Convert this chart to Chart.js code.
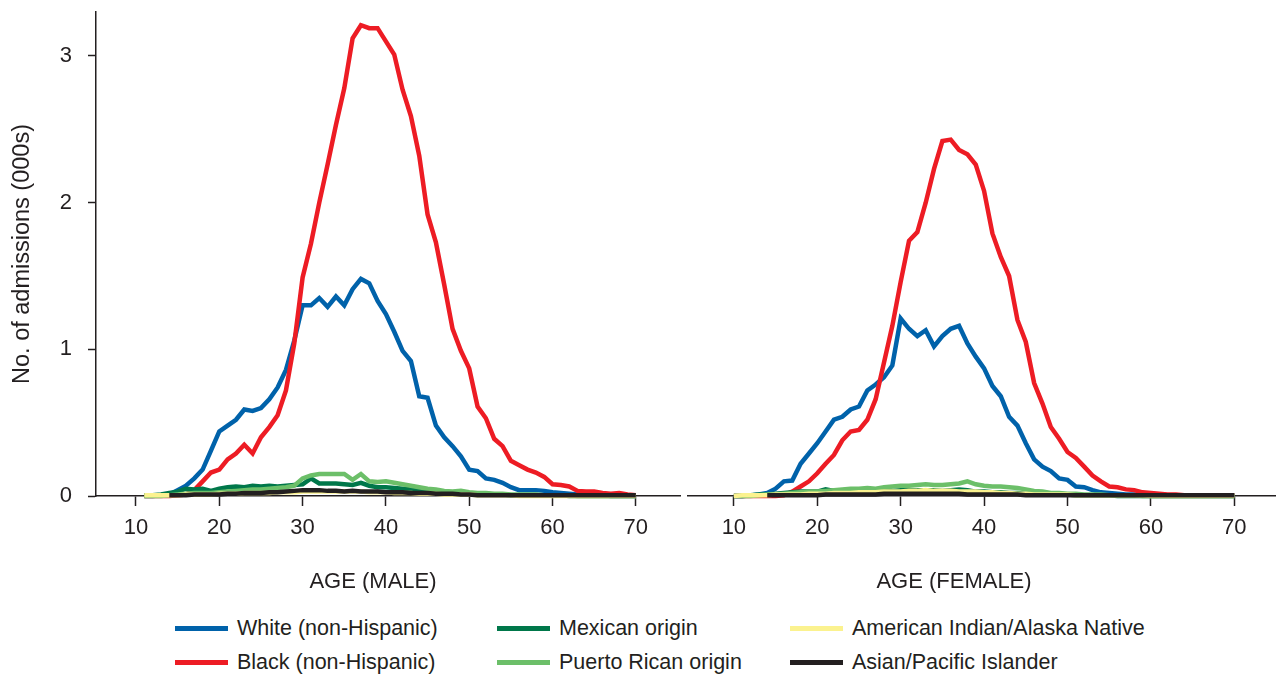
<!DOCTYPE html>
<html>
<head>
<meta charset="utf-8">
<script src="https://cdn.jsdelivr.net/npm/chart.js@4.4.1/dist/chart.umd.min.js"></script>
<style>
  body { margin: 0; background: #fff; }
  #wrap { position: relative; width: 1276px; height: 674px; font-family: "Liberation Sans", Arial, sans-serif; color: #231f20; }
  .panel { position: absolute; top: 0; height: 600px; }
  .key { position: absolute; height: 5px; width: 53px; }
  .lab { position: absolute; font-size: 21.5px; line-height: 24px; white-space: nowrap; }
  .xtitle { position: absolute; font-size: 22px; line-height: 26px; white-space: nowrap; transform: translateX(-50%); }
</style>
</head>
<body>
<div id="wrap">
  <div class="panel" style="left:0;width:684px"><canvas id="male"></canvas></div>
  <div class="panel" style="left:684px;width:592px"><canvas id="female"></canvas></div>
</div>
<script>
const seriesNames = ["White (non-Hispanic)", "Black (non-Hispanic)", "Mexican origin", "Puerto Rican origin", "American Indian/Alaska Native", "Asian/Pacific Islander"];
const seriesColors = ["#0062aa", "#ed1c24", "#00774a", "#6cbf69", "#fbf28f", "#231f20"];

const xTicks = [10, 20, 30, 40, 50, 60, 70];
const yTicks = [0, 1, 2, 3];

const maleAges = [11, 12, 13, 14, 15, 16, 17, 18, 19, 20, 21, 22, 23, 24, 25, 26, 27, 28, 29, 30,
  31, 32, 33, 34, 35, 36, 37, 38, 39, 40, 41, 42, 43, 44, 45, 46, 47, 48, 49, 50,
  51, 52, 53, 54, 55, 56, 57, 58, 59, 60, 61, 62, 63, 64, 65, 66, 67, 68, 69, 70];
const femaleAges = [10, 11, 12, 13, 14, 15, 16, 17, 18, 19, 20, 21, 22, 23, 24, 25, 26, 27, 28, 29, 30,
  31, 32, 33, 34, 35, 36, 37, 38, 39, 40, 41, 42, 43, 44, 45, 46, 47, 48, 49, 50,
  51, 52, 53, 54, 55, 56, 57, 58, 59, 60, 61, 62, 63, 64, 65, 66, 67, 68, 69, 70];

// admissions in thousands, male, ages 11-70
const maleWhite = [0, 0, 0.005, 0.01, 0.04, 0.07, 0.12, 0.18, 0.31, 0.44,
  0.48, 0.52, 0.59, 0.58, 0.60, 0.66, 0.74, 0.86, 1.06, 1.30,
  1.30, 1.35, 1.29, 1.36, 1.30, 1.41, 1.48, 1.45, 1.33, 1.24,
  1.12, 0.99, 0.92, 0.68, 0.67, 0.48, 0.40, 0.34, 0.27, 0.18,
  0.17, 0.12, 0.11, 0.09, 0.06, 0.04, 0.04, 0.04, 0.035, 0.025,
  0.02, 0.015, 0.01, 0.01, 0.005, 0.005, 0, 0, 0, 0];
const maleBlack = [0, 0, 0, 0, 0.005, 0.01, 0.04, 0.10, 0.16, 0.18,
  0.25, 0.29, 0.35, 0.29, 0.40, 0.47, 0.55, 0.72, 1.04, 1.49,
  1.72, 2.00, 2.26, 2.53, 2.78, 3.12, 3.21, 3.19, 3.19, 3.10,
  3.01, 2.77, 2.59, 2.32, 1.92, 1.73, 1.44, 1.14, 0.99, 0.87,
  0.61, 0.53, 0.39, 0.34, 0.24, 0.21, 0.18, 0.16, 0.13, 0.08,
  0.075, 0.065, 0.035, 0.03, 0.03, 0.02, 0.015, 0.02, 0.01, 0.005];
const maleMexican = [0.005, 0.005, 0.01, 0.02, 0.03, 0.05, 0.045, 0.05, 0.035, 0.05,
  0.06, 0.065, 0.06, 0.07, 0.065, 0.07, 0.065, 0.07, 0.075, 0.08,
  0.12, 0.085, 0.085, 0.085, 0.08, 0.075, 0.09, 0.07, 0.06, 0.06,
  0.055, 0.05, 0.045, 0.04, 0.03, 0.025, 0.02, 0.02, 0.015, 0.015,
  0.01, 0.01, 0.01, 0.01, 0.005, 0.005, 0.005, 0.005, 0.005, 0.005,
  0.005, 0, 0, 0, 0, 0, 0, 0, 0, 0];
const malePuertoRican = [0, 0, 0, 0.005, 0.01, 0.015, 0.02, 0.02, 0.02, 0.025,
  0.03, 0.035, 0.04, 0.045, 0.045, 0.05, 0.055, 0.06, 0.07, 0.12,
  0.14, 0.15, 0.15, 0.15, 0.15, 0.11, 0.15, 0.10, 0.095, 0.10,
  0.09, 0.08, 0.07, 0.06, 0.05, 0.045, 0.035, 0.03, 0.035, 0.025,
  0.02, 0.02, 0.015, 0.015, 0.01, 0.01, 0.01, 0.01, 0.005, 0.005,
  0.005, 0.005, 0, 0, 0, 0, 0, 0, 0, 0];
const maleAmIndian = [0.005, 0.005, 0.005, 0.005, 0.005, 0.01, 0.01, 0.01, 0.01, 0.015,
  0.015, 0.015, 0.02, 0.02, 0.02, 0.02, 0.025, 0.025, 0.025, 0.03,
  0.03, 0.03, 0.03, 0.03, 0.03, 0.03, 0.03, 0.025, 0.025, 0.025,
  0.02, 0.02, 0.02, 0.015, 0.015, 0.015, 0.01, 0.01, 0.01, 0.01,
  0.005, 0.005, 0.005, 0.005, 0.005, 0, 0, 0, 0, 0,
  0, 0, 0, 0, 0, 0, 0, 0, 0, 0];
const maleAsian = [null, null, null, 0.005, 0.005, 0.005, 0.01, 0.01, 0.01, 0.01,
  0.015, 0.015, 0.02, 0.02, 0.02, 0.025, 0.025, 0.03, 0.035, 0.04,
  0.04, 0.04, 0.035, 0.035, 0.03, 0.035, 0.03, 0.03, 0.03, 0.025,
  0.025, 0.025, 0.02, 0.02, 0.02, 0.015, 0.015, 0.015, 0.01, 0.01,
  0.005, 0.005, 0.005, 0.005, 0.005, 0.005, 0.005, 0.005, 0.005, 0.005,
  0.005, 0.005, 0.005, 0.005, 0.005, 0.005, 0.005, 0.005, 0.005, 0.005];

// admissions in thousands, female, ages 10-70
const femaleWhite = [0, 0, 0.003, 0.01, 0.02, 0.05, 0.10, 0.105, 0.22, 0.29,
  0.36, 0.44, 0.52, 0.54, 0.59, 0.61, 0.72, 0.76, 0.81, 0.89,
  1.21, 1.14, 1.09, 1.13, 1.02, 1.09, 1.14, 1.16, 1.04, 0.95,
  0.87, 0.75, 0.68, 0.54, 0.48, 0.36, 0.25, 0.20, 0.17, 0.12,
  0.11, 0.065, 0.06, 0.04, 0.025, 0.02, 0.015, 0.01, 0.01, 0.005,
  0, 0, 0, 0, 0, 0, 0, 0, 0, 0, 0];
const femaleBlack = [0, 0, 0, 0, 0, 0, 0.005, 0.03, 0.065, 0.10,
  0.155, 0.22, 0.28, 0.38, 0.44, 0.45, 0.52, 0.66, 0.91, 1.16,
  1.46, 1.74, 1.80, 2.00, 2.23, 2.42, 2.43, 2.36, 2.33, 2.26,
  2.08, 1.79, 1.63, 1.50, 1.20, 1.05, 0.77, 0.63, 0.47, 0.39,
  0.30, 0.26, 0.20, 0.14, 0.10, 0.065, 0.06, 0.045, 0.04, 0.025,
  0.02, 0.015, 0.01, 0.01, 0.005, 0.005, 0.005, 0.005, 0.005, 0.005, 0.005];
const femaleMexican = [0, 0, 0.005, 0.01, 0.01, 0.015, 0.02, 0.025, 0.03, 0.03,
  0.03, 0.045, 0.035, 0.035, 0.035, 0.04, 0.035, 0.045, 0.035, 0.035,
  0.04, 0.04, 0.04, 0.04, 0.04, 0.035, 0.04, 0.045, 0.04, 0.03,
  0.03, 0.025, 0.025, 0.02, 0.02, 0.015, 0.015, 0.01, 0.01, 0.01,
  0.01, 0.005, 0.005, 0.005, 0.005, 0.005, 0, 0, 0, 0,
  0, 0, 0, 0, 0, 0, 0, 0, 0, 0, 0];
const femalePuertoRican = [0, 0, 0, 0.005, 0.01, 0.01, 0.015, 0.02, 0.025, 0.03,
  0.03, 0.035, 0.04, 0.045, 0.05, 0.05, 0.055, 0.05, 0.06, 0.065,
  0.07, 0.07, 0.075, 0.08, 0.075, 0.075, 0.08, 0.085, 0.10, 0.08,
  0.07, 0.065, 0.065, 0.06, 0.055, 0.045, 0.035, 0.03, 0.02, 0.02,
  0.015, 0.015, 0.01, 0.01, 0.01, 0.005, 0.005, 0.005, 0.005, 0,
  0, 0, 0, 0, 0, 0, 0, 0, 0, 0, 0];
const femaleAmIndian = [0, 0.005, 0.005, 0.005, 0.005, 0.01, 0.01, 0.01, 0.01, 0.015,
  0.015, 0.015, 0.02, 0.02, 0.02, 0.025, 0.025, 0.025, 0.03, 0.03,
  0.03, 0.035, 0.035, 0.04, 0.035, 0.035, 0.035, 0.03, 0.03, 0.03,
  0.025, 0.025, 0.02, 0.02, 0.015, 0.015, 0.01, 0.01, 0.01, 0.01,
  0.01, 0.005, 0.005, 0.005, 0.005, 0.005, 0.005, 0.005, 0.005, 0.005,
  0, 0, 0, 0, 0, 0, 0, 0, 0, 0, 0];
const femaleAsian = [null, null, null, null, 0.005, 0.005, 0.005, 0.005, 0.005, 0.005,
  0.005, 0.01, 0.01, 0.01, 0.01, 0.01, 0.01, 0.01, 0.015, 0.015,
  0.015, 0.015, 0.015, 0.015, 0.015, 0.015, 0.015, 0.015, 0.01, 0.01,
  0.01, 0.01, 0.01, 0.01, 0.01, 0.005, 0.005, 0.005, 0.005, 0.005,
  0.005, 0.005, 0.005, 0.005, 0.005, 0.005, 0.005, 0.005, 0.005, 0.005,
  0.005, 0.005, 0.005, 0.005, 0.005, 0.005, 0.005, 0.005, 0.005, 0.005, 0.005];

const ink = "#231f20";
Chart.defaults.font.family = '"Liberation Sans", Arial, sans-serif';
Chart.defaults.color = ink;

function makePanel(id, ages, series, xMin, xMax, showY) {
  const datasets = series.map((vals, i) => ({
    label: seriesNames[i],
    data: ages.map((a, j) => ({ x: a, y: vals[j] })),
    borderColor: seriesColors[i],
    backgroundColor: seriesColors[i],
    borderWidth: 4.5,
    pointRadius: 0,
    tension: 0,
    borderJoinStyle: "miter",
    order: series.length - i, // last series (Asian) ends up on top
    clip: 6,
  }));

  new Chart(document.getElementById(id), {
    type: "line",
    data: { datasets },
    options: {
      responsive: true,
      maintainAspectRatio: false,
      animation: false,
      events: [],
      layout: { padding: showY ? { top: 12, right: 4 } : { top: 12, left: 4 } },
      plugins: { legend: { display: false }, tooltip: { enabled: false } },
      scales: {
        x: {
          type: "linear",
          min: xMin,
          max: xMax,
          afterBuildTicks: (axis) => { axis.ticks = xTicks.map((v) => ({ value: v })); },
          afterFit: (axis) => {
            axis.height = 104;
            axis.paddingLeft = 0;
            axis.paddingRight = 0;
          },
          border: { display: true, color: ink, width: 1.5 },
          grid: { drawOnChartArea: false, tickLength: 10, tickColor: ink, tickWidth: 1.5 },
          ticks: { font: { size: 22 }, padding: 9, maxRotation: 0 },
        },
        y: {
          display: showY,
          min: 0,
          max: 3.3,
          afterBuildTicks: (axis) => { axis.ticks = yTicks.map((v) => ({ value: v })); },
          afterFit: (axis) => {
            if (showY) axis.width = 96;
            axis.paddingTop = 0;
            axis.paddingBottom = 0;
          },
          border: { display: true, color: ink, width: 1.5 },
          grid: { drawOnChartArea: false, tickLength: 8, tickColor: ink, tickWidth: 1.5 },
          ticks: { font: { size: 22 }, padding: 16 },
          title: { display: true, text: "No. of admissions (000s)", font: { size: 23.5 }, padding: { top: 8, bottom: 0 } },
        },
      },
    },
  });
}

makePanel("male", maleAges,
  [maleWhite, maleBlack, maleMexican, malePuertoRican, maleAmIndian, maleAsian],
  5.2, 75.3, true);
makePanel("female", femaleAges,
  [femaleWhite, femaleBlack, femaleMexican, femalePuertoRican, femaleAmIndian, femaleAsian],
  4.5, 75, false);

const wrap = document.getElementById("wrap");

// x axis titles, sitting a little left of each panel's centre as in the original
const xTitles = ["AGE (MALE)", "AGE (FEMALE)"];
const xTitleCenters = [373, 954];
xTitles.forEach((t, i) => {
  const el = document.createElement("div");
  el.className = "xtitle";
  el.style.left = xTitleCenters[i] + "px";
  el.style.top = "568px";
  el.textContent = t;
  wrap.appendChild(el);
});

// legend: three columns, two rows, filled column by column
const legendCols = [175, 497, 790];
const legendRows = [628, 662];
seriesNames.forEach((name, i) => {
  const x = legendCols[Math.floor(i / 2)];
  const y = legendRows[i % 2];
  const key = document.createElement("div");
  key.className = "key";
  key.style.left = x + "px";
  key.style.top = (y - 2.5) + "px";
  key.style.background = seriesColors[i];
  const lab = document.createElement("div");
  lab.className = "lab";
  lab.style.left = (x + 62) + "px";
  lab.style.top = (y - 12) + "px";
  lab.textContent = name;
  wrap.appendChild(key);
  wrap.appendChild(lab);
});
</script>
</body>
</html>
